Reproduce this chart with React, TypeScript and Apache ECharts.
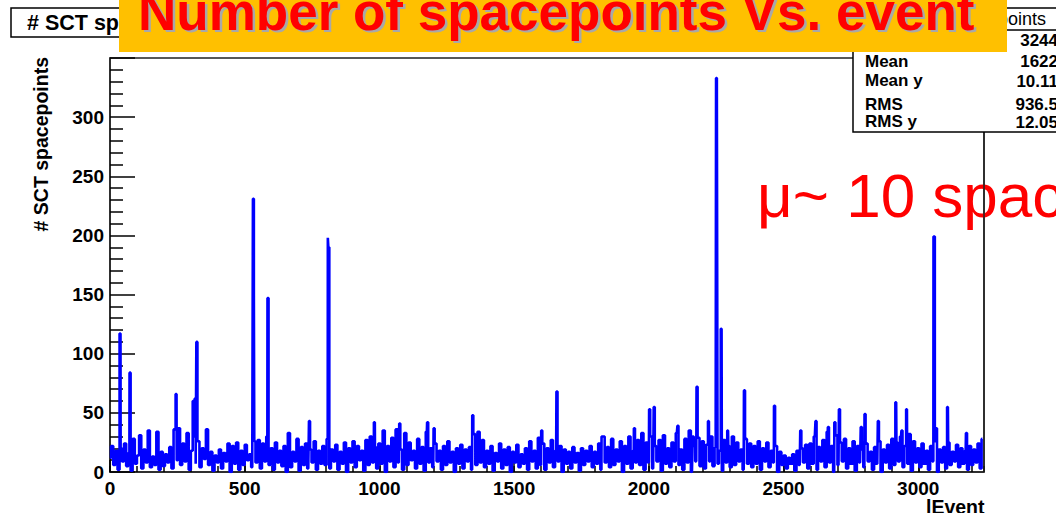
import React, { useEffect, useRef } from "react";
import * as echarts from "echarts";

const FONT = '"Liberation Sans", Arial, Helvetica, sans-serif';

// Background counts, one sample every 8 events (event = index * 8)
const baseStep = 8;
const baseCounts = [
  12, 22, 6, 18, 2, 20, 9, 24, 5, 16, 1, 28, 7, 14, 31, 3, 19, 8, 35, 4, 13, 6, 34, 2, 17,
  5, 15, 8, 21, 3, 36, 10, 37, 6, 24, 9, 33, 2, 18, 30, 7, 26, 4, 20, 11, 36, 6, 17, 1, 14,
  8, 19, 3, 16, 9, 24, 0, 22, 7, 25, 2, 18, 6, 23, 10, 15, 4, 26, 8, 27, 3, 24, 9, 30, 6,
  20, 2, 25, 8, 18, 5, 22, 0, 33, 4, 17, 9, 28, 1, 21, 6, 24, 3, 19, 8, 26, 2, 18, 7, 22,
  6, 28, 3, 19, 9, 23, 2, 17, 7, 25, 0, 20, 8, 26, 4, 22, 10, 18, 1, 27, 6, 30, 8, 21, 3,
  24, 7, 35, 0, 22, 9, 29, 4, 36, 8, 19, 2, 33, 6, 25, 10, 18, 3, 28, 7, 21, 1, 34, 8, 20,
  4, 24, 9, 18, 2, 22, 6, 26, 8, 17, 0, 20, 7, 23, 3, 19, 9, 21, 2, 32, 6, 34, 8, 27, 4,
  18, 7, 22, 1, 16, 9, 24, 3, 19, 6, 21, 0, 17, 8, 23, 4, 15, 7, 20, 2, 26, 9, 18, 3, 29,
  6, 24, 2, 20, 8, 27, 4, 18, 9, 22, 0, 19, 7, 17, 3, 21, 8, 16, 1, 20, 6, 18, 9, 22, 4,
  17, 7, 24, 2, 30, 8, 21, 4, 28, 6, 19, 9, 26, 0, 22, 7, 30, 3, 18, 8, 27, 6, 33, 2, 25,
  8, 30, 3, 22, 9, 27, 1, 31, 7, 20, 4, 25, 9, 33, 6, 19, 2, 28, 8, 35, 0, 22, 9, 29, 5,
  26, 3, 23, 9, 30, 5, 21, 7, 18, 1, 27, 8, 22, 4, 30, 6, 25, 9, 19, 2, 28, 7, 24, 4, 22,
  7, 26, 2, 20, 9, 25, 4, 18, 8, 22, 0, 17, 6, 14, 3, 12, 7, 15, 1, 18, 6, 20, 8, 23, 3,
  24, 7, 30, 2, 21, 9, 27, 4, 34, 8, 22, 0, 31, 6, 25, 9, 28, 3, 20, 7, 26, 1, 22, 8, 19,
  4, 24, 9, 17, 2, 21, 7, 26, 0, 19, 8, 23, 3, 28, 6, 25, 9, 30, 4, 22, 7, 32, 1, 26, 8,
  20, 4, 24, 7, 18, 2, 22, 9, 26, 0, 19, 8, 21, 3, 25, 6, 17, 9, 23, 4, 20, 7, 18, 2, 22,
  6, 19, 8, 24, 3, 28,
];

// Isolated spikes (event number, count)
const spikeEvents = [
  39, 73, 247, 310, 316, 321, 533, 535, 585, 741, 809, 812, 983, 1075, 1178, 1202,
  1345, 1601, 1658, 1825, 1945, 2002, 2020, 2108, 2165, 2178, 2223, 2251, 2254, 2270,
  2294, 2354, 2465, 2564, 2621, 2665, 2689, 2707, 2789, 2801, 2852, 2918, 2939, 2958,
  3057, 3059, 3067, 3110, 3178, 3238,
];
const spikeCounts = [
  117, 84, 66, 60, 62, 110, 231, 150, 147, 43, 198, 190, 42, 41, 42, 37,
  48, 35, 68, 30, 37, 53, 55, 39, 30, 72, 43, 333, 320, 121,
  35, 69, 56, 35, 43, 38, 42, 53, 38, 49, 43, 59, 35, 53,
  199, 199, 37, 55, 33, 28,
];

const xMin = 0;
const xMax = 3244;
const xMajor = 500;
const xMinor = 100;
const yMin = 0;
const yMax = 350;
const yMajor = 50;

const titleText = "Number of spacepoints Vs. event";
const histTitle = "# SCT spacepoints";
const yName = "# SCT spacepoints";
const xName = "lEvent";
const noteText = "\u03bc~ 10 spacepoints";
const statsHeader = "spacepoints";
const statsLabels = ["Entries", "Mean", "Mean y", "RMS", "RMS y"];
const statsValues = ["3244", "1622", "10.11", "936.5", "12.05"];

export default function App() {
  const ref = useRef<HTMLDivElement>(null);

  useEffect(() => {
    if (!ref.current) return;
    const chart = echarts.init(ref.current, null, { renderer: "svg" });

    const points: number[][] = [];
    baseCounts.forEach((v, i) => points.push([i * baseStep, v]));
    spikeEvents.forEach((e, i) => points.push([e, spikeCounts[i]]));
    points.sort((a, b) => a[0] - b[0]);

    const labelRowY = [40, 61, 80, 104, 121];
    const valueRowY = [40, 61, 81, 104, 122];

    const labelStyle = {
      fontFamily: FONT,
      fontWeight: "bold" as const,
      fontSize: 19,
      color: "#000",
      formatter: (v: number) => String(v),
    };

    const graphics: any[] = [
      // histogram title box (partly hidden)
      {
        type: "rect",
        z: 10,
        shape: { x: 11, y: 8, width: 120, height: 29 },
        style: { fill: "#fff", stroke: "#000", lineWidth: 1.5 },
      },
      {
        type: "text",
        z: 11,
        x: 27,
        y: 22.5,
        style: { text: histTitle, font: `bold 21.5px ${FONT}`, fill: "#000", verticalAlign: "middle" },
      },
      // stats box
      {
        type: "rect",
        z: 10,
        shape: { x: 853, y: 8, width: 260, height: 124 },
        style: { fill: "#fff", stroke: "#000", lineWidth: 1.5 },
      },
      {
        type: "line",
        z: 11,
        shape: { x1: 853, y1: 30, x2: 1060, y2: 30 },
        style: { stroke: "#000", lineWidth: 1.5 },
      },
      {
        type: "text",
        z: 11,
        x: 1046,
        y: 19,
        style: { text: statsHeader, font: `18px ${FONT}`, fill: "#000", textAlign: "right", verticalAlign: "middle" },
      },
      ...statsLabels.map((t, i) => ({
        type: "text",
        z: 11,
        x: 865,
        y: labelRowY[i],
        style: { text: t, font: `bold 17px ${FONT}`, fill: "#000", verticalAlign: "middle" },
      })),
      ...statsValues.map((t, i) => ({
        type: "text",
        z: 11,
        x: 1058,
        y: valueRowY[i],
        style: { text: t, font: `bold 17px ${FONT}`, fill: "#000", textAlign: "right", verticalAlign: "middle" },
      })),
      // orange banner
      {
        type: "rect",
        z: 20,
        shape: { x: 119, y: 0, width: 888, height: 52 },
        style: { fill: "#FFC000" },
      },
      {
        type: "text",
        z: 21,
        x: 140.5,
        y: 13.5,
        style: { text: titleText, font: `bold 53px ${FONT}`, fill: "#a8a8a8", verticalAlign: "middle" },
      },
      {
        type: "text",
        z: 22,
        x: 138,
        y: 11,
        style: { text: titleText, font: `bold 53px ${FONT}`, fill: "#ff0000", verticalAlign: "middle" },
      },
      // annotation
      {
        type: "text",
        z: 5,
        x: 757,
        y: 195.5,
        style: { text: noteText, font: `62px ${FONT}`, fill: "#ff0000", verticalAlign: "middle" },
      },
      {
        type: "line",
        z: 6,
        shape: { x1: 984, y1: 132, x2: 984, y2: 472 },
        style: { stroke: "#222", lineWidth: 1.5 },
      },
      // axis titles
      {
        type: "text",
        z: 5,
        x: 41,
        y: 57,
        rotation: Math.PI / 2,
        style: { text: yName, font: `bold 19.5px ${FONT}`, fill: "#000", textAlign: "right", verticalAlign: "middle" },
      },
      {
        type: "text",
        z: 5,
        x: 984.5,
        y: 507,
        style: { text: xName, font: `bold 19.5px ${FONT}`, fill: "#000", textAlign: "right", verticalAlign: "middle" },
      },
    ];

    chart.setOption({
      animation: false,
      backgroundColor: "#fff",
      grid: {
        left: 110,
        right: 72,
        top: 58,
        bottom: 41,
        show: true,
        borderColor: "#222",
        borderWidth: 1.5,
        backgroundColor: "transparent",
      },
      xAxis: [
        {
          type: "value",
          min: xMin,
          max: xMax,
          interval: xMajor,
          position: "bottom",
          axisLine: { show: true, lineStyle: { color: "#222", width: 1.5 } },
          axisTick: { show: true, inside: true, length: 12, lineStyle: { color: "#000", width: 1.5 } },
          axisLabel: { ...labelStyle, margin: 7, showMaxLabel: false, showMinLabel: true },
          splitLine: { show: false },
        },
        {
          type: "value",
          min: xMin,
          max: xMax,
          interval: xMinor,
          position: "bottom",
          axisLine: { show: false },
          axisTick: { show: true, inside: true, length: 6, lineStyle: { color: "#000", width: 1.5 } },
          axisLabel: { show: false },
          splitLine: { show: false },
        },
      ],
      yAxis: {
        type: "value",
        min: yMin,
        max: yMax,
        interval: yMajor,
        axisLine: { show: true, lineStyle: { color: "#222", width: 1.5 } },
        axisTick: { show: true, inside: true, length: 25, lineStyle: { color: "#000", width: 1.5 } },
        minorTick: { show: true, splitNumber: 5, length: 13, lineStyle: { color: "#000", width: 1.5 } },
        axisLabel: { ...labelStyle, margin: 6, showMaxLabel: false, showMinLabel: true },
        splitLine: { show: false },
        minorSplitLine: { show: false },
      },
      series: [
        {
          type: "line",
          xAxisIndex: 0,
          data: points,
          step: "middle",
          showSymbol: false,
          symbol: "none",
          lineStyle: { color: "#0000ff", width: 2.6 },
          z: 2,
        },
      ],
      graphic: graphics,
    });

    return () => chart.dispose();
  }, []);

  return (
    <div
      ref={ref}
      style={{ position: "fixed", left: 0, top: 0, width: 1056, height: 513, background: "#fff" }}
    />
  );
}
